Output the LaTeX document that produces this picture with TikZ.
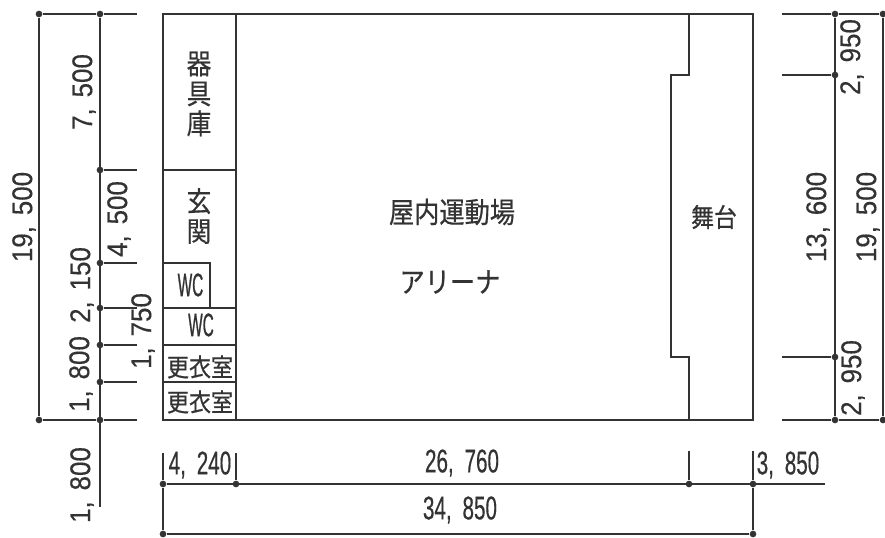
\documentclass[tikz,border=0pt]{standalone}
\usepackage{fontspec}
\usepackage{xcolor}
\newfontfamily\jpfont[FakeStretch=0.88, FakeBold=0.5]{Noto Sans CJK JP}
\newfontfamily\vdimfont[FakeStretch=0.91, FakeBold=0.4]{Liberation Sans}
\newfontfamily\hdimfont[FakeStretch=0.63, FakeBold=0.4]{Liberation Sans}
\newfontfamily\wcfont[FakeStretch=0.47, FakeBold=0.6]{Liberation Sans}
\definecolor{ink}{HTML}{333333}
\tikzstyle{wall}=[draw=ink, line width=1.1pt]
\tikzstyle{dimline}=[draw=ink, line width=1pt]
\tikzstyle{dimdot}=[fill=ink, circle, inner sep=0pt, minimum size=5pt]
\tikzstyle{vdim}=[text=ink, inner sep=0pt, rotate=90, font=\vdimfont\fontsize{21.4}{22}\selectfont, execute at begin node={\spaceskip=0.38em\relax}]
\tikzstyle{hdim}=[text=ink, inner sep=0pt, font=\hdimfont\fontsize{24.6}{26}\selectfont, execute at begin node={\spaceskip=0.33em\relax}]
\tikzstyle{wclabel}=[text=ink, inner sep=0pt, font=\wcfont\fontsize{24.5}{26}\selectfont]
\tikzstyle{stacked}=[text=ink, inner sep=0pt, align=center, font=\jpfont\fontsize{21}{22.5}\selectfont]
\tikzstyle{room}=[text=ink, inner sep=0pt, font=\jpfont\fontsize{21.5}{24}\selectfont]
\tikzstyle{smallroom}=[text=ink, inner sep=0pt, font=\jpfont\fontsize{18.75}{22}\selectfont]

\begin{document}
\begin{tikzpicture}[x=0.75pt, y=-0.75pt]
    \useasboundingbox (0,0) rectangle (885,538);
    \draw[wall] (163,14) rectangle (753,420);
    \draw[wall] (236,14) -- (236,420);
    \draw[wall] (163,170) -- (236,170);
    \draw[wall] (163,263) -- (210,263) -- (210,308);
    \foreach \y in {308,345,382} { \draw[wall] (163,\y) -- (236,\y); }
    \draw[wall] (689,14) -- (689,75) -- (671,75) -- (671,357) -- (689,357) -- (689,420);

    \foreach \n/\y in {a/14,b/170,c/263,d/308,e/345,f/382,g/420} {
        \node[dimdot] (m\n) at (100,\y) {};
        \coordinate (t\n) at (137,\y);
        \draw[dimline] (m\n) -- (t\n);
    }
    \coordinate (mend) at (100,507);
    \draw[dimline] (ma) -- (mend);
    \node[dimdot] (oa) at (39,14) {}; \node[dimdot] (og) at (39,420) {};
    \draw[dimline] (oa) -- (og);
    \draw[dimline] (oa) -- (ma); \draw[dimline] (og) -- (mg);

    \foreach \n/\y in {a/14,b/75,c/357,d/420} {
        \node[dimdot] (r\n) at (835,\y) {};
        \coordinate (s\n) at (782,\y);
        \draw[dimline] (s\n) -- (r\n);
    }
    \draw[dimline] (ra) -- (rd);
    \node[dimdot] (qa) at (883,14) {}; \node[dimdot] (qd) at (883,420) {};
    \draw[dimline] (qa) -- (qd);
    \draw[dimline] (ra) -- (qa); \draw[dimline] (rd) -- (qd);

    \foreach \n/\x/\y in {a/163/453,b/236/453,c/689/451,d/753/451} {
        \node[dimdot] (b\n) at (\x,484) {};
        \coordinate (u\n) at (\x,\y);
        \draw[dimline] (u\n) -- (b\n);
    }
    \coordinate (bend) at (825,484);
    \draw[dimline] (ba) -- (bend);
    \node[dimdot] (ca) at (163,534) {}; \node[dimdot] (cd) at (753,534) {};
    \draw[dimline] (ca) -- (cd);
    \draw[dimline] (ba) -- (ca); \draw[dimline] (bd) -- (cd);

    \node[vdim] (d19l) at (24,217) {19, 500};
    \node[vdim] (d7) at (84,92) {7, 500};
    \node[vdim] (d4) at (119,219) {4, 500};
    \node[vdim] (d2) at (82,285) {2, 150};
    \node[vdim] (d18a) at (81,374) {1, 800};
    \node[vdim] (d175) at (143,331) {1, 750};
    \node[vdim] (d18b) at (82,485) {1, 800};
    \node[vdim] (d29a) at (852,57) {2, 950};
    \node[vdim] (d13) at (818,217) {13, 600};
    \node[vdim] (d19r) at (868,217) {19, 500};
    \node[vdim] (d29b) at (853,378) {2, 950};
    \node[hdim] (d424) at (200,465) {4, 240};
    \node[hdim] (d26) at (462,463) {26, 760};
    \node[hdim] (d385) at (788,465) {3, 850};
    \node[hdim] (d34) at (460,510) {34, 850};

    \node[stacked] (store) at (199,94) {器\\具\\庫};
    \node[stacked] (entry) at (199,216) {玄\\関};
    \node[room] (gym) at (452,212) {屋内運動場};
    \node[room] (arena) at (450,282) {アリーナ};
    \node[room, font=\jpfont\fontsize{19.5}{22}\selectfont] (stage) at (714,217) {舞台};
    \node[wclabel] (wca) at (190.5,285) {WC};
    \node[wclabel] (wcb) at (201,325) {WC};
    \node[smallroom] (locka) at (200,367) {更衣室};
    \node[smallroom] (lockb) at (200,402) {更衣室};
\end{tikzpicture}
\end{document}
